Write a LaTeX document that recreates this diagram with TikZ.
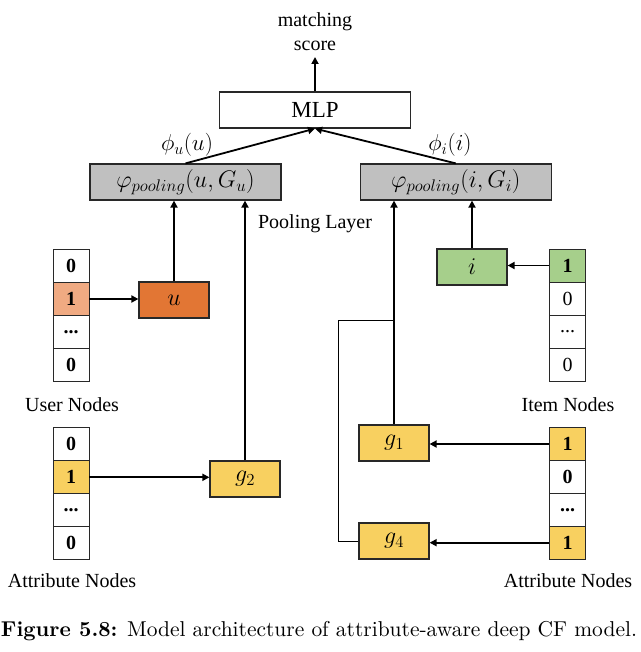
\RequirePackage{fix-cm}
\documentclass[tikz,border=0pt]{standalone}
\usepackage{fontspec}
\newfontfamily\tnr{Liberation Serif}
\usetikzlibrary{arrows.meta}
\definecolor{poolgray}{RGB}{192,192,192}
\definecolor{uorange}{RGB}{226,118,52}
\definecolor{lorange}{RGB}{240,170,130}
\definecolor{igreen}{RGB}{166,207,139}
\definecolor{gyellow}{RGB}{248,208,96}
\definecolor{edge}{RGB}{40,40,40}
\tikzset{
  txt/.style={font=\tnr\fontsize{20}{24}\selectfont, inner sep=0pt},
  box/.style={draw=edge, line width=1.2pt, minimum width=70pt, minimum height=36pt, inner sep=0pt, font=\fontsize{24}{28}\selectfont},
  wide/.style={draw=edge, line width=1.2pt, minimum width=191pt, minimum height=36pt, inner sep=0pt},
  cell/.style={draw=edge, line width=0.9pt, minimum width=36pt, minimum height=33pt, inner sep=0pt, font=\tnr\fontsize{20}{24}\selectfont},
  bcell/.style={cell, font=\tnr\bfseries\fontsize{20}{24}\selectfont},
  arr/.style={line width=1.8pt, -{Triangle[length=7pt,width=7pt]}},
  thin/.style={line width=1pt}
}
\begin{document}
\begin{tikzpicture}[x=1pt,y=-1pt]
\useasboundingbox (0,0) rectangle (640,652);
% top
\node[txt, align=center] (score) at (315,32) {matching\\score};
\node[wide, font=\tnr\fontsize{23}{27}\selectfont] (mlp) at (315,110) {MLP};
\coordinate (scoretop) at (315,57);
\draw[arr] (mlp.north) -- (scoretop);
% pooling
\node[wide, fill=poolgray, font=\fontsize{24}{28}\selectfont] (poolu) at (185.5,182) {$\varphi_{pooling}(u,G_u)$};
\node[wide, fill=poolgray, font=\fontsize{24}{28}\selectfont] (pooli) at (455.8,182) {$\varphi_{pooling}(i,G_i)$};
\draw[arr] (poolu.north) -- (mlp.south);
\draw[arr] (pooli.north) -- (mlp.south);
\node[inner sep=0pt, font=\fontsize{23}{27}\selectfont] (phiu) at (187,145) {$\phi_u(u)$};
\node[inner sep=0pt, font=\fontsize{23}{27}\selectfont] (phii) at (450,145) {$\phi_i(i)$};
\node[txt] (pl) at (315,224) {Pooling Layer};
% user column
\node[bcell] (uc1) at (71,265.5) {0};
\node[bcell, fill=lorange] (uc2) at (71,299) {1};
\node[bcell] (uc3) at (71,332) {...};
\node[bcell] (uc4) at (71,365) {0};
\node[txt] (ulab) at (72,405) {User Nodes};
\node[box, fill=uorange] (u) at (174,300) {$u$};
\draw[arr] (uc2.east) -- (uc2.east -| u.west);
\draw[arr] (u.north) -- (u.north |- poolu.south);
% left attribute column
\node[bcell] (ac1) at (71,444) {0};
\node[bcell, fill=gyellow] (ac2) at (71,477.3) {1};
\node[bcell] (ac3) at (71,510) {...};
\node[bcell] (ac4) at (71,542.7) {0};
\node[txt] (alab) at (72,581) {Attribute Nodes};
\node[box, fill=gyellow] (g2) at (245,479) {$g_2$};
\draw[arr] (ac2.east) -- (ac2.east -| g2.west);
\draw[arr] (g2.north) -- (g2.north |- poolu.south);
% item column
\node[bcell, fill=igreen] (ic1) at (567.5,265.5) {1};
\node[cell] (ic2) at (567.5,299) {0};
\node[cell] (ic3) at (567.5,332) {...};
\node[cell] (ic4) at (567.5,365) {0};
\node[txt] (ilab) at (568,405) {Item Nodes};
\node[box, fill=igreen] (i) at (472,267) {$i$};
\draw[arr] (ic1.west) -- (ic1.west -| i.east);
\draw[arr] (i.north) -- (i.north |- pooli.south);
% right attribute column
\node[bcell, fill=gyellow] (ra1) at (567.5,444) {1};
\node[bcell] (ra2) at (567.5,477.3) {0};
\node[bcell] (ra3) at (567.5,510) {...};
\node[bcell, fill=gyellow] (ra4) at (567.5,542.7) {1};
\node[txt] (ralab) at (568,581) {Attribute Nodes};
\node[box, fill=gyellow] (g1) at (394,443) {$g_1$};
\node[box, fill=gyellow] (g4) at (394,541) {$g_4$};
\draw[arr] (ra1.west) -- (ra1.west -| g1.east);
\draw[arr] (ra4.west) -- (ra4.west -| g4.east);
\draw[arr] (g1.north) -- (g1.north |- pooli.south);
\coordinate (br) at (338,320);
\draw[thin] (g4.west) -| (br) -- (br -| g1.north);
% caption
\node[inner sep=0pt] (cap) at (319,631) {\resizebox{636pt}{!}{\textbf{Figure 5.8:} Model architecture of attribute-aware deep CF model.}};
\end{tikzpicture}
\end{document}
